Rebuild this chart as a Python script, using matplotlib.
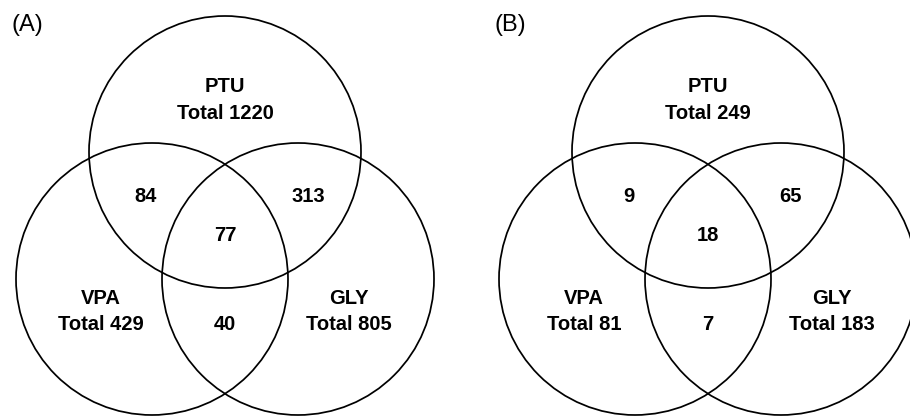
import matplotlib
matplotlib.use("Agg")
import matplotlib.pyplot as plt
from matplotlib.patches import Circle

plt.rcParams['font.family'] = ['Liberation Sans', 'DejaVu Sans']

# data
panels = ["(A)", "(B)"]
sets = ["PTU", "VPA", "GLY"]
totals_a = [1220, 429, 805]
totals_b = [249, 81, 183]
# PTU&VPA, PTU&GLY, all three, VPA&GLY
overlaps_a = [84, 313, 77, 40]
overlaps_b = [9, 65, 18, 7]

# layout (pixel coordinates)
W, H = 910, 417
centers_x = [225, 708]
R = 136
dx, top_y, bot_y = 73, 152, 279


def draw_venn(ax, cx, totals, overlaps, tag):
    # circles: top, left, right
    for (x, y) in [(cx, top_y), (cx - dx, bot_y), (cx + dx, bot_y)]:
        ax.add_patch(Circle((x, y), R, fill=False, edgecolor='black', lw=1.25))

    kw = dict(ha='center', va='center', fontsize=14.5, fontweight='bold')
    # set names + totals
    name_pos = [(cx, 86, 113), (cx - 124, 298, 324), (cx + 124, 298, 324)]
    for name, tot, (x, y1, y2) in zip(sets, totals, name_pos):
        ax.text(x, y1, name, **kw)
        ax.text(x, y2, f"Total {tot}", **kw)

    # overlaps
    ov_pos = [(cx - 79, 196), (cx + 83, 196), (cx, 235), (cx, 324)]
    for v, (x, y) in zip(overlaps, ov_pos):
        ax.text(x, y, str(v), **kw)

    ax.text(cx - 198, 25, tag, ha='center', va='center', fontsize=17)


fig = plt.figure(figsize=(W / 100, H / 100), dpi=100)
ax = fig.add_axes([0, 0, 1, 1])
ax.set_xlim(0, W)
ax.set_ylim(H, 0)
ax.axis('off')

draw_venn(ax, centers_x[0], totals_a, overlaps_a, panels[0])
draw_venn(ax, centers_x[1], totals_b, overlaps_b, panels[1])

fig.savefig("out.png", dpi=100)
